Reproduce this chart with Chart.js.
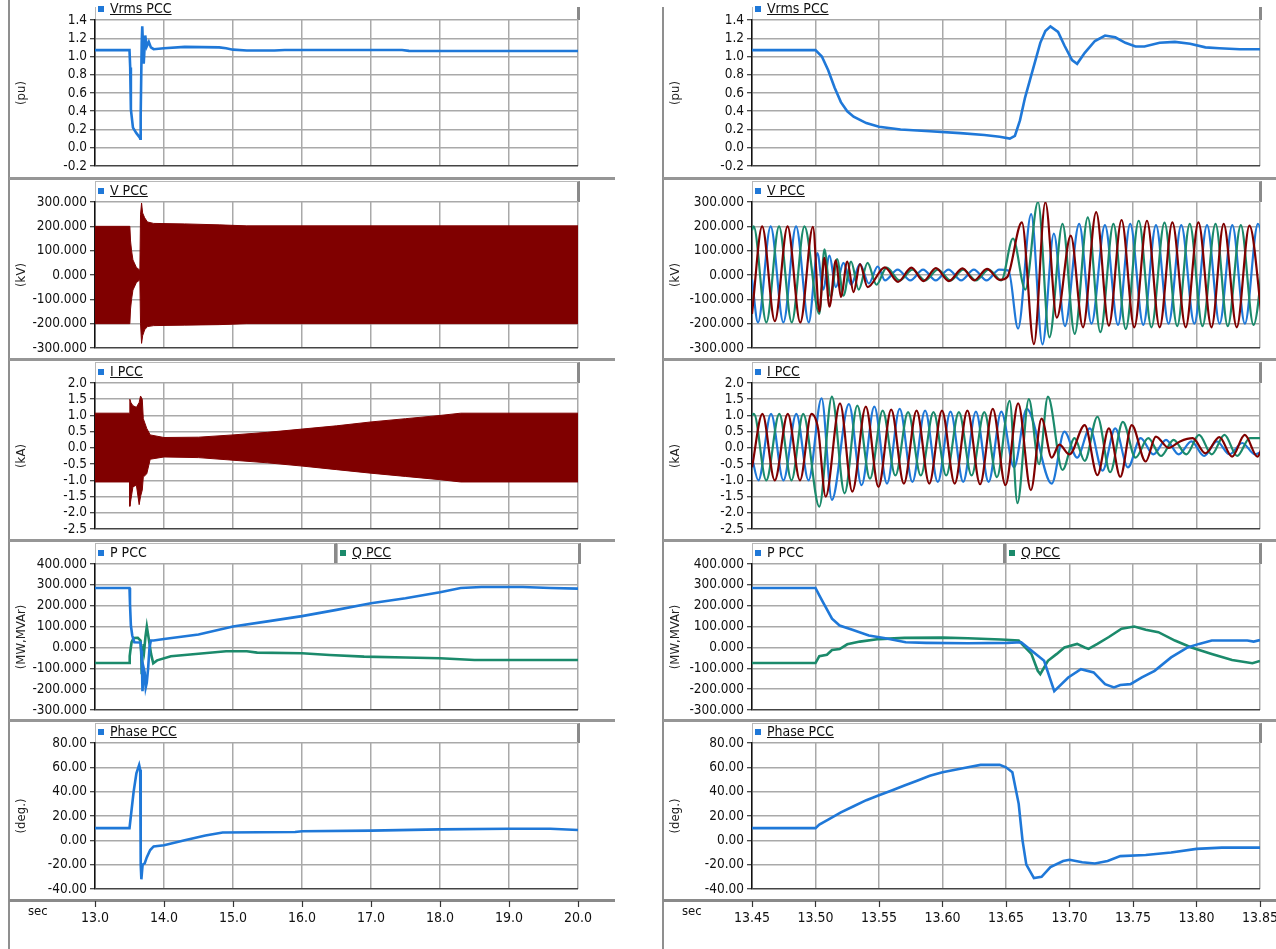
<!DOCTYPE html>
<html><head><meta charset="utf-8">
<script src="https://cdn.jsdelivr.net/npm/chart.js@4/dist/chart.umd.min.js"></script>
<style>
html,body{margin:0;padding:0;background:#fff;}
body{width:1276px;height:949px;overflow:hidden;position:relative;font-family:"DejaVu Sans Condensed","DejaVu Sans",sans-serif;}
.abs{position:absolute;box-sizing:border-box;}
canvas{position:absolute;z-index:5;}
.lg{position:absolute;font-size:14px;line-height:16px;color:#111;text-decoration:underline;white-space:nowrap;z-index:6;}
.nu{text-decoration:none;}
</style></head>
<body>
<script>
// ---------------- tick labels ----------------
const timeTicksL = ['13.0','14.0','15.0','16.0','17.0','18.0','19.0','20.0'];
const timeTicksR = ['13.45','13.50','13.55','13.60','13.65','13.70','13.75','13.80','13.85'];
const vrmsTicks = ['-0.2','0.0','0.2','0.4','0.6','0.8','1.0','1.2','1.4'];
const vTicks = ['-300.000','-200.000','-100.000','0.000','100.000','200.000','300.000'];
const iTicks = ['-2.5','-2.0','-1.5','-1.0','-0.5','0.0','0.5','1.0','1.5','2.0'];
const pqTicks = ['-300.000','-200.000','-100.000','0.000','100.000','200.000','300.000','400.000'];
const phTicks = ['-40.00','-20.00','0.00','20.00','40.00','60.00','80.00'];

// ---------------- left column (13.0 .. 20.0 s) ----------------
const vrmsL = [[13.0,1.07],[13.5,1.07],[13.51,0.88],[13.52,0.42],[13.55,0.22],[13.6,0.16],[13.65,0.11],[13.655,0.1],[13.662,0.35],[13.677,1.15],[13.685,1.33],[13.696,1.12],[13.706,0.92],[13.728,1.23],[13.75,1.11],[13.78,1.16],[13.81,1.1],[13.85,1.08],[14.0,1.09],[14.3,1.105],[14.8,1.1],[14.9,1.09],[15.0,1.075],[15.2,1.065],[15.6,1.065],[15.75,1.072],[17.45,1.072],[17.55,1.062],[20.0,1.06]];
const vEnvT = [13.0,13.505,13.515,13.53,13.55,13.6,13.65,13.66,13.675,13.69,13.72,13.76,13.85,14.3,14.8,15.2,20.0];
const vEnvUp = [200,200,140,100,62,31,20,250,296,255,235,218,212,210,206,202,202];
const vEnvLo = [-200,-200,-140,-100,-62,-31,-20,-200,-281,-250,-225,-212,-208,-206,-204,-200,-200];
const iEnvT = [13.0,13.5,13.505,13.52,13.55,13.6,13.64,13.66,13.685,13.7,13.75,13.8,14.0,14.5,15.0,15.5,16.0,16.5,17.0,17.5,18.0,18.3,20.0];
const iEnvUp = [1.07,1.07,1.5,1.4,1.3,1.25,1.4,1.6,1.5,0.9,0.6,0.4,0.32,0.33,0.4,0.48,0.58,0.68,0.8,0.9,1.0,1.07,1.07];
const iEnvLo = [-1.05,-1.05,-1.8,-1.6,-1.2,-1.15,-1.75,-1.5,-1.3,-0.9,-0.8,-0.35,-0.28,-0.3,-0.38,-0.46,-0.56,-0.67,-0.78,-0.88,-0.98,-1.05,-1.05];
const pL = [[13.0,285],[13.5,285],[13.507,210],[13.52,105],[13.54,57],[13.57,25],[13.66,24],[13.67,-15],[13.68,-64],[13.688,-210],[13.70,-144],[13.709,-104],[13.72,-120],[13.735,-192],[13.75,-170],[13.77,-100],[13.79,0],[13.81,33],[13.85,33],[14.0,40],[14.5,62],[15.0,100],[15.5,125],[16.0,150],[16.5,180],[17.0,212],[17.5,236],[18.0,265],[18.3,285],[18.6,290],[19.2,290],[19.6,285],[20.0,282]];
const qL = [[13.0,-75],[13.5,-75],[13.503,-42],[13.515,-10],[13.53,25],[13.56,45],[13.62,46],[13.66,33],[13.67,-31],[13.677,-128],[13.685,-64],[13.696,0],[13.706,17],[13.715,-7],[13.731,50],[13.751,100],[13.783,33],[13.812,-31],[13.844,-76],[13.9,-62],[14.1,-42],[14.5,-30],[14.9,-18],[15.2,-18],[15.35,-25],[16.0,-28],[16.4,-36],[16.9,-44],[17.5,-48],[18.0,-52],[18.5,-60],[20.0,-60]];
const phL = [[13.0,10],[13.5,10],[13.52,20],[13.56,40],[13.6,55],[13.64,62],[13.655,58],[13.66,20],[13.665,-20],[13.672,-32],[13.69,-20],[13.72,-19],[13.75,-14],[13.8,-8],[13.85,-5],[14.0,-4],[14.3,0],[14.6,4],[14.85,6.5],[15.9,6.8],[16.0,7.5],[17.0,8],[18.0,9],[19.0,9.5],[19.6,9.5],[20.0,8.5]];

// ---------------- right column (13.45 .. 13.85 s) ----------------
const vrmsR = [[13.45,1.07],[13.50,1.07],[13.505,1.0],[13.51,0.85],[13.515,0.66],[13.52,0.5],[13.525,0.4],[13.53,0.34],[13.54,0.27],[13.55,0.23],[13.567,0.2],[13.59,0.18],[13.614,0.16],[13.633,0.14],[13.645,0.12],[13.653,0.1],[13.657,0.13],[13.661,0.3],[13.665,0.55],[13.669,0.75],[13.673,0.95],[13.677,1.15],[13.681,1.28],[13.685,1.33],[13.691,1.27],[13.696,1.12],[13.702,0.96],[13.706,0.92],[13.712,1.04],[13.72,1.17],[13.728,1.23],[13.736,1.21],[13.744,1.15],[13.752,1.11],[13.759,1.11],[13.771,1.15],[13.783,1.16],[13.795,1.14],[13.807,1.1],[13.818,1.09],[13.834,1.08],[13.85,1.08]];
const vRedR = [[13.450,-160],[13.458,200],[13.468,-190],[13.478,200],[13.488,-195],[13.498,198],[13.503,-150],[13.507,70],[13.511,-130],[13.516,60],[13.520,-90],[13.525,55],[13.530,-70],[13.535,45],[13.541,-50],[13.5546,31],[13.565,-28],[13.5755,30],[13.585,-25],[13.5948,28],[13.605,-25],[13.6157,27],[13.625,-22],[13.635,25],[13.645,-20],[13.651,-8],[13.6625,216],[13.672,-284],[13.681,299],[13.690,-175],[13.701,162],[13.7106,-215],[13.721,258],[13.731,-208],[13.741,226],[13.751,-215],[13.761,223],[13.771,-215],[13.781,216],[13.7915,-215],[13.8015,216],[13.8118,-215],[13.8214,210],[13.8317,-215],[13.8417,203],[13.852,-201]];
const vGreenR = [[13.450,184],[13.4513,200],[13.4613,-195],[13.4713,200],[13.4813,-195],[13.4913,200],[13.503,-160],[13.507,105],[13.512,-90],[13.517,65],[13.522,-85],[13.528,55],[13.534,-60],[13.541,50],[13.548,-40],[13.556,30],[13.5663,-22],[13.5763,22],[13.5863,-22],[13.5963,22],[13.6063,-22],[13.6163,22],[13.6263,-22],[13.6363,22],[13.6463,-22],[13.6555,150],[13.6652,-60],[13.6752,300],[13.6842,-256],[13.6945,210],[13.7041,-242],[13.7144,237],[13.7243,-235],[13.7346,210],[13.7443,-222],[13.7545,223],[13.7645,-215],[13.7748,215],[13.7848,-210],[13.7947,210],[13.8047,-210],[13.815,210],[13.8246,-210],[13.8349,205],[13.8449,-205],[13.8549,205]];
const vBlueR = [[13.450,-18],[13.4547,-195],[13.4647,200],[13.4747,-195],[13.4847,200],[13.4947,-195],[13.5015,90],[13.506,-60],[13.511,80],[13.516,-50],[13.522,50],[13.528,-40],[13.535,45],[13.542,-35],[13.549,35],[13.5547,-22],[13.5647,22],[13.5747,-22],[13.5847,22],[13.5947,-22],[13.6047,22],[13.6147,-22],[13.6247,22],[13.6347,-22],[13.6447,22],[13.652,18],[13.6595,-220],[13.6698,250],[13.6787,-285],[13.6877,170],[13.6964,-210],[13.7076,210],[13.7173,-200],[13.7279,205],[13.7382,-205],[13.7478,210],[13.7581,-205],[13.7681,205],[13.778,-200],[13.788,205],[13.7983,-200],[13.8083,205],[13.8182,-200],[13.8282,205],[13.8381,-200],[13.8484,210],[13.8585,-200]];
const iRedR = [[13.450,-0.6],[13.4582,1.05],[13.4679,-1.0],[13.4782,1.05],[13.4878,-1.0],[13.4968,1.05],[13.502,0.6],[13.508,-1.5],[13.5193,1.37],[13.529,-1.35],[13.5396,1.27],[13.5496,-1.2],[13.5596,1.18],[13.5696,-1.1],[13.5796,1.15],[13.5896,-1.1],[13.5996,1.15],[13.6096,-1.1],[13.6196,1.15],[13.6296,-1.12],[13.6396,1.2],[13.6496,-1.15],[13.6596,1.37],[13.6696,-1.3],[13.678,0.9],[13.686,-0.3],[13.692,0.1],[13.70,-0.2],[13.712,0.7],[13.722,-0.84],[13.731,0.6],[13.74,-0.89],[13.749,0.7],[13.76,-0.42],[13.768,0.35],[13.778,0.0],[13.787,0.2],[13.797,0.3],[13.807,-0.17],[13.818,0.33],[13.828,-0.27],[13.838,0.4],[13.848,-0.27],[13.852,0.06]];
const iGreenR = [[13.450,1.0],[13.4515,1.05],[13.4612,-1.0],[13.4715,1.05],[13.4811,-1.0],[13.4903,1.05],[13.503,-1.81],[13.5129,1.58],[13.5229,-1.4],[13.5329,1.3],[13.5429,-0.95],[13.5529,1.15],[13.5629,-0.85],[13.5729,1.1],[13.5829,-0.85],[13.5929,1.1],[13.6029,-0.85],[13.6129,1.1],[13.6229,-0.85],[13.6329,1.1],[13.6429,-0.9],[13.6529,1.45],[13.659,-1.7],[13.668,1.5],[13.676,-0.5],[13.683,1.58],[13.6945,-0.68],[13.704,0.3],[13.712,-0.4],[13.722,0.96],[13.732,-0.75],[13.742,0.8],[13.752,-0.3],[13.762,0.3],[13.772,-0.25],[13.782,0.25],[13.792,-0.2],[13.802,0.4],[13.812,-0.2],[13.822,0.4],[13.832,-0.25],[13.842,0.3],[13.852,0.3]];
const iBlueR = [[13.450,-0.3],[13.455,-1.0],[13.465,1.05],[13.4747,-1.0],[13.4849,1.05],[13.4945,-1.0],[13.5048,1.53],[13.5129,-1.6],[13.5263,1.35],[13.5363,-1.15],[13.5463,1.27],[13.5563,-1.1],[13.5663,1.2],[13.5763,-1.05],[13.5863,1.15],[13.5963,-1.05],[13.6063,1.12],[13.6163,-1.05],[13.6263,1.12],[13.6363,-1.05],[13.6463,1.12],[13.6563,-0.6],[13.6663,1.2],[13.686,-1.1],[13.696,0.5],[13.706,-0.3],[13.716,0.6],[13.726,-0.7],[13.736,0.6],[13.746,-0.6],[13.756,0.3],[13.766,-0.2],[13.776,0.25],[13.786,-0.2],[13.796,0.2],[13.806,-0.25],[13.816,0.2],[13.826,-0.2],[13.836,0.15],[13.846,-0.2],[13.852,-0.1]];
const pR = [[13.45,285],[13.50,285],[13.503,250],[13.5065,210],[13.513,138],[13.519,105],[13.529,85],[13.542,57],[13.555,44],[13.571,25],[13.587,22],[13.62,20],[13.651,22],[13.662,25],[13.67,-15],[13.68,-64],[13.688,-210],[13.699,-144],[13.709,-104],[13.719,-120],[13.728,-176],[13.735,-192],[13.74,-180],[13.748,-176],[13.757,-144],[13.767,-112],[13.78,-48],[13.793,0],[13.802,17],[13.812,33],[13.84,33],[13.845,28],[13.85,35]];
const qR = [[13.45,-75],[13.50,-75],[13.503,-42],[13.509,-35],[13.513,-12],[13.519,-8],[13.525,15],[13.535,28],[13.55,40],[13.57,46],[13.60,47],[13.62,44],[13.646,38],[13.66,33],[13.670,-31],[13.675,-112],[13.677,-128],[13.683,-64],[13.690,-31],[13.696,0],[13.706,17],[13.712,0],[13.715,-7],[13.722,17],[13.731,50],[13.741,90],[13.751,100],[13.760,85],[13.770,73],[13.783,33],[13.796,0],[13.812,-31],[13.828,-60],[13.844,-76],[13.85,-65]];
const phR = [[13.45,10],[13.50,10],[13.503,13],[13.51,17],[13.52,23],[13.53,28],[13.54,33],[13.55,37],[13.56,41],[13.57,45],[13.58,49],[13.59,53],[13.60,56],[13.61,58],[13.62,60],[13.63,62],[13.645,62],[13.65,60],[13.655,56],[13.66,30],[13.663,0],[13.666,-20],[13.672,-31],[13.678,-30],[13.685,-22],[13.695,-17],[13.70,-16],[13.71,-18],[13.72,-19],[13.73,-17],[13.74,-13],[13.76,-12],[13.78,-10],[13.80,-7],[13.82,-6],[13.85,-6]];

// ---------------- styling / layout ----------------
const BLUE = '#1f78d8', GREEN = '#1b8a6b', RED = '#800000';
const GRID = '#a9a9a9';
const FAM = '"DejaVu Sans Condensed","DejaVu Sans",sans-serif';
const COLS = [
  {x0:9, plotL:95, plotR:578, sepR:615, vTop:0, ticks:timeTicksL},
  {x0:663, plotL:752, plotR:1260, sepR:1276, vTop:7, ticks:timeTicksR}
];
const ROW_TOP = [20,202,383,564,743];
const PLOT_H = 146;
const SEP_Y = [178,359,540,720];
const AXIS_Y = 900;

const xy = a => a.map(p => ({x:p[0], y:p[1]}));
const env = (t, v) => t.map((x, i) => ({x, y:v[i]}));
const num = a => a.map(s => parseFloat(s));

function div(l, t, w, h, st) {
  const d = document.createElement('div');
  d.className = 'abs';
  Object.assign(d.style, {left:l+'px', top:t+'px', width:w+'px', height:h+'px'}, st || {});
  document.body.appendChild(d);
  return d;
}
function line(d, c, w) {
  return {data:d, borderColor:c, borderWidth:w||2.6, pointRadius:0, fill:false, tension:0};
}
function wave(d, c) {
  return {data:d, borderColor:c, borderWidth:2.2, pointRadius:0, fill:false, cubicInterpolationMode:'monotone'};
}
function band(t, up, lo, c) {
  return [
    {data:env(t, up), borderColor:c, backgroundColor:c, borderWidth:1, pointRadius:0, fill:'+1', tension:0},
    {data:env(t, lo), borderColor:c, borderWidth:1, pointRadius:0, fill:false, tension:0}
  ];
}

const PANELS = [
  {unit:'(pu)', ticks:vrmsTicks, legend:[['Vrms PCC', BLUE, true]],
   L:[line(xy(vrmsL), BLUE)], R:[line(xy(vrmsR), BLUE)]},
  {unit:'(kV)', ticks:vTicks, legend:[['V PCC', BLUE, true]],
   L:band(vEnvT, vEnvUp, vEnvLo, RED), R:[wave(xy(vRedR), RED), wave(xy(vGreenR), GREEN), wave(xy(vBlueR), BLUE)]},
  {unit:'(kA)', ticks:iTicks, legend:[['I PCC', BLUE, true]],
   L:band(iEnvT, iEnvUp, iEnvLo, RED), R:[wave(xy(iRedR), RED), wave(xy(iGreenR), GREEN), wave(xy(iBlueR), BLUE)]},
  {unit:'(MW,MVAr)', ticks:pqTicks, legend:[['P PCC', BLUE, false], ['Q PCC', GREEN, true]],
   L:[line(xy(pL), BLUE), line(xy(qL), GREEN)], R:[line(xy(pR), BLUE), line(xy(qR), GREEN)]},
  {unit:'(deg.)', ticks:phTicks, legend:[['Phase PCC', BLUE, true]],
   L:[line(xy(phL), BLUE)], R:[line(xy(phR), BLUE)]}
];

// frames
COLS.forEach(C => {
  div(C.x0 - 1, C.vTop, 2, 949 - C.vTop, {background:'#8f8f8f'});
  SEP_Y.forEach(y => div(C.x0, y - 1, C.sepR - C.x0, 3, {background:'#969696'}));
  div(C.x0, AXIS_Y - 1, C.sepR - C.x0, 3, {background:'#8a8a8a'});
});

// legends
PANELS.forEach((P, r) => {
  COLS.forEach(C => {
    const top = ROW_TOP[r];
    const legTop = r === 0 ? 7 : SEP_Y[r - 1] + 3;
    const n = P.legend.length;
    const W = (C.plotR - C.plotL) / n;
    P.legend.forEach((it, k) => {
      const bx = Math.round(C.plotL + k * W);
      const bw = Math.round(W);
      div(bx, legTop, bw + (k === n - 1 ? 2 : 0), top - legTop, {
        borderTop: r === 0 ? 'none' : '1px solid #b8b8b8',
        borderLeft: '1px solid #b8b8b8',
        borderRight: '3px solid #8a8a8a'
      });
      div(bx + 3, top - 14, 6, 6, {background: it[1], zIndex: 6});
      const s = document.createElement('div');
      s.className = 'lg' + (it[2] ? '' : ' nu');
      s.textContent = it[0];
      s.style.left = (bx + 15) + 'px';
      s.style.top = (top - 20) + 'px';
      document.body.appendChild(s);
    });
  });
});

// charts
function plotChart(C, r, P, datasets) {
  const padT = 12, padB = 12, padR = 6;
  const left = C.x0 + 1;
  const w = C.plotR - left + padR;
  const h = PLOT_H + padT + padB;
  const cv = document.createElement('canvas');
  cv.width = w; cv.height = h;
  cv.style.left = left + 'px'; cv.style.top = (ROW_TOP[r] - padT) + 'px';
  cv.style.width = w + 'px'; cv.style.height = h + 'px';
  document.body.appendChild(cv);
  const xt = num(C.ticks), yt = num(P.ticks);
  new Chart(cv, {
    type: 'line',
    data: {datasets},
    options: {
      responsive: false, animation: false, devicePixelRatio: 1, events: [],
      layout: {padding: {top: padT, bottom: padB, right: padR, left: 0}},
      plugins: {legend: {display: false}, tooltip: {enabled: false}},
      scales: {
        x: {type: 'linear', min: xt[0], max: xt[xt.length - 1],
            afterBuildTicks: a => { a.ticks = xt.map(v => ({value: v})); },
            ticks: {display: false},
            grid: {color: GRID, lineWidth: 1.5, drawTicks: false},
            border: {display: false},
            afterFit: a => { a.height = 0; }},
        y: {type: 'linear', min: yt[0], max: yt[yt.length - 1],
            afterBuildTicks: a => { a.ticks = yt.map(v => ({value: v})); },
            ticks: {callback: (v, i) => P.ticks[i], font: {family: FAM, size: 13.5}, color: '#111', padding: 3, autoSkip: false},
            grid: {color: c => (c.index === 0 ? '#444' : GRID), lineWidth: 1.5, tickLength: 5, tickColor: '#111', tickWidth: 1},
            border: {display: true, color: '#111', width: 1.5},
            title: {display: true, text: P.unit, font: {family: FAM, size: 13}, color: '#222', padding: {top: 4, bottom: 0}},
            afterFit: a => { a.width = C.plotL - left; }}
      }
    }
  });
}

function axisChart(C) {
  const left = C.x0 + 1;
  const w = C.plotR - left + 30;
  const h = 48;
  const top = AXIS_Y + 1 - 8;
  const cv = document.createElement('canvas');
  cv.width = w; cv.height = h;
  cv.style.left = left + 'px'; cv.style.top = top + 'px';
  cv.style.width = w + 'px'; cv.style.height = h + 'px';
  document.body.appendChild(cv);
  const xt = num(C.ticks);
  new Chart(cv, {
    type: 'line',
    data: {datasets: []},
    options: {
      responsive: false, animation: false, devicePixelRatio: 1, events: [],
      layout: {padding: {top: 0, bottom: 0, left: C.plotL - left, right: w - (C.plotR - left)}},
      plugins: {legend: {display: false}, tooltip: {enabled: false}},
      scales: {
        x: {type: 'linear', position: 'bottom', min: xt[0], max: xt[xt.length - 1],
            afterBuildTicks: a => { a.ticks = xt.map(v => ({value: v})); },
            ticks: {callback: (v, i) => C.ticks[i], font: {family: FAM, size: 14}, color: '#111', padding: 3, autoSkip: false, maxRotation: 0},
            grid: {drawOnChartArea: false, drawTicks: true, tickLength: 6, tickColor: '#333', tickWidth: 1.2},
            border: {display: false},
            afterFit: a => { a.height = h - 8; }},
        y: {display: false, min: 0, max: 1}
      }
    }
  });
  const s = document.createElement('div');
  s.className = 'lg nu';
  s.style.fontSize = '13px';
  s.textContent = 'sec';
  s.style.left = (C.x0 + 19) + 'px';
  s.style.top = (AXIS_Y + 3) + 'px';
  document.body.appendChild(s);
}

PANELS.forEach((P, r) => {
  plotChart(COLS[0], r, P, P.L);
  plotChart(COLS[1], r, P, P.R);
});
COLS.forEach(axisChart);
</script>
</body></html>
